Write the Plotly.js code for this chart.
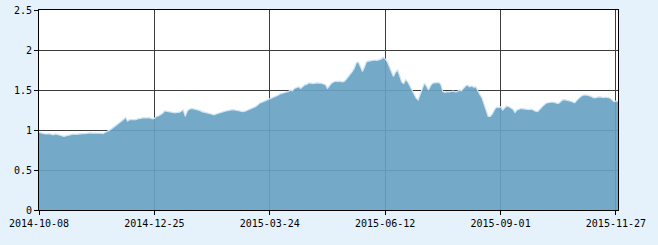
<!DOCTYPE html>
<html>
<head>
<meta charset="utf-8">
<script src="https://cdn.plot.ly/plotly-3.0.1.min.js"></script>
<style>html,body{margin:0;padding:0;background:#e6f2fb;}#chart{width:658px;height:245px;}</style>
</head>
<body>
<div id="chart"></div>
<script>
// Tick positions (trading-day index) and their labels
const tickIndex = [0, 56, 112, 168, 224, 280];
const tickLabels = ["2014-10-08", "2014-12-25", "2015-03-24", "2015-06-12", "2015-09-01", "2015-11-27"];

// Series values, one per trading day
const values = [
  0.97,0.96,0.96,0.95,0.95,0.955,0.945,0.94,0.95,0.945,
  0.94,0.93,0.92,0.93,0.935,0.94,0.945,0.95,0.945,0.95,
  0.95,0.955,0.955,0.96,0.96,0.965,0.96,0.96,0.965,0.96,
  0.96,0.955,0.965,0.98,0.995,1.01,1.03,1.04,1.06,1.08,
  1.10,1.13,1.16,1.11,1.13,1.13,1.135,1.13,1.14,1.145,
  1.15,1.155,1.15,1.155,1.15,1.14,1.145,1.17,1.175,1.19,
  1.21,1.24,1.235,1.23,1.22,1.22,1.215,1.22,1.22,1.235,
  1.25,1.17,1.24,1.26,1.27,1.265,1.26,1.25,1.245,1.23,
  1.22,1.215,1.21,1.205,1.20,1.19,1.20,1.21,1.215,1.22,
  1.23,1.24,1.245,1.25,1.255,1.25,1.245,1.24,1.235,1.23,
  1.235,1.245,1.25,1.26,1.275,1.29,1.31,1.335,1.345,1.355,
  1.37,1.385,1.39,1.40,1.41,1.42,1.435,1.45,1.455,1.465,
  1.475,1.48,1.50,1.49,1.52,1.535,1.54,1.52,1.545,1.565,
  1.57,1.59,1.585,1.58,1.585,1.59,1.585,1.585,1.575,1.565,
  1.52,1.55,1.585,1.60,1.61,1.605,1.61,1.60,1.605,1.63,
  1.66,1.69,1.73,1.77,1.84,1.85,1.78,1.73,1.79,1.855,
  1.86,1.865,1.87,1.875,1.87,1.88,1.885,1.91,1.89,1.855,
  1.80,1.74,1.67,1.72,1.75,1.68,1.60,1.58,1.63,1.60,
  1.54,1.50,1.45,1.40,1.375,1.45,1.53,1.585,1.55,1.50,
  1.55,1.585,1.59,1.59,1.595,1.57,1.48,1.47,1.48,1.475,
  1.48,1.485,1.475,1.48,1.50,1.49,1.52,1.55,1.56,1.54,
  1.55,1.535,1.54,1.48,1.44,1.40,1.33,1.24,1.17,1.17,
  1.20,1.25,1.285,1.28,1.29,1.25,1.28,1.30,1.29,1.275,
  1.26,1.22,1.25,1.26,1.27,1.265,1.26,1.26,1.255,1.26,
  1.245,1.235,1.23,1.26,1.29,1.31,1.335,1.34,1.35,1.35,
  1.345,1.335,1.33,1.35,1.375,1.38,1.375,1.37,1.36,1.35,
  1.34,1.37,1.40,1.42,1.435,1.44,1.435,1.43,1.42,1.405,
  1.40,1.41,1.415,1.41,1.405,1.41,1.405,1.40,1.38,1.355,
  1.36,1.36
];
const yTicks = [0, 0.5, 1, 1.5, 2, 2.5];
const yLabels = ["0", "0.5", "1", "1.5", "2", "2.5"];

const xIdx = values.map((_, i) => i);

const trace = {
  x: xIdx,
  y: values,
  type: 'scatter',
  mode: 'lines',
  fill: 'tozeroy',
  fillcolor: 'rgba(104,162,195,0.92)',
  line: {color: '#cfe5f4', width: 1.2, shape: 'linear'},
  hoverinfo: 'skip'
};

const axisFont = {family: '"DejaVu Sans Mono", monospace', size: 10, color: '#000'};

const layout = {
  width: 658,
  height: 245,
  paper_bgcolor: '#e6f2fb',
  plot_bgcolor: '#ffffff',
  margin: {l: 39, r: 40, t: 10, b: 35},
  showlegend: false,
  xaxis: {
    range: [0, values.length - 1],
    tickmode: 'array',
    tickvals: tickIndex,
    ticktext: tickLabels,
    showgrid: true,
    gridcolor: '#3c3c3c',
    gridwidth: 1,
    zeroline: false,
    showline: true,
    linecolor: '#000',
    linewidth: 1,
    mirror: true,
    ticks: 'outside',
    ticklen: 4,
    tickcolor: '#000',
    tickfont: axisFont,
    fixedrange: true
  },
  yaxis: {
    range: [0, 2.5],
    tickmode: 'array',
    tickvals: yTicks,
    ticktext: yLabels,
    showgrid: true,
    gridcolor: '#3c3c3c',
    gridwidth: 1,
    zeroline: false,
    showline: true,
    linecolor: '#000',
    linewidth: 1,
    mirror: true,
    ticks: 'outside',
    ticklen: 4,
    tickcolor: '#000',
    tickfont: axisFont,
    fixedrange: true
  }
};

Plotly.newPlot('chart', [trace], layout, {displayModeBar: false, staticPlot: true});
</script>
</body>
</html>
